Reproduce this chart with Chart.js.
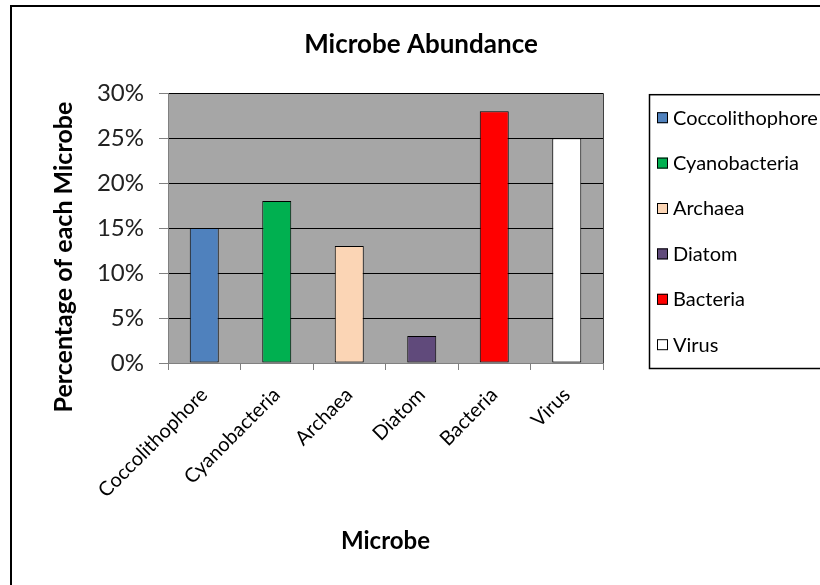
<!DOCTYPE html>
<html>
<head>
<meta charset="utf-8">
<title>Microbe Abundance</title>
<script src="https://cdn.jsdelivr.net/npm/chart.js@4.4.1/dist/chart.umd.min.js"></script>
<style>
  html, body { margin: 0; padding: 0; background: #fff; overflow: hidden; }
  #wrap { width: 842px; height: 585px; }
</style>
</head>
<body>
<div id="wrap"><canvas id="microbeChart" width="842" height="585"></canvas></div>
<script>
// data
const microbes = ['Coccolithophore', 'Cyanobacteria', 'Archaea', 'Diatom', 'Bacteria', 'Virus'];
const abundance = [15, 18, 13, 3, 28, 25];
const barColors = ['#4f81bd', '#00b050', '#fbd5b5', '#604a7b', '#ff0000', '#ffffff'];
const yTicks = [0, 5, 10, 15, 20, 25, 30];
const yTitleText = 'Percentage of each Microbe';

const FONT = 'Lato';

// white page, black frame, grey plot area
const backdrop = {
    id: 'backdrop',
    beforeDraw(chart) {
        const { ctx, chartArea: a } = chart;
        ctx.save();
        ctx.fillStyle = '#fff';
        ctx.fillRect(0, 0, chart.width, chart.height);
        ctx.fillStyle = '#a6a6a6';
        ctx.fillRect(a.left, a.top, a.right - a.left, a.bottom - a.top);
        ctx.strokeStyle = '#000';
        ctx.lineWidth = 2;
        ctx.strokeRect(11, 6, chart.width + 100, chart.height + 100);
        ctx.restore();
    },
    beforeDatasetsDraw(chart) {
        const { ctx, chartArea: a } = chart;
        ctx.save();
        ctx.strokeStyle = '#404040';
        ctx.lineWidth = 1;
        ctx.beginPath();
        ctx.moveTo(a.right + 0.5, a.top);
        ctx.lineTo(a.right + 0.5, a.bottom);
        ctx.stroke();
        ctx.restore();
    }
};

// y axis title, sits a bit below the middle of the plot like the original
const yTitle = {
    id: 'yTitle',
    afterDraw(chart) {
        const { ctx, chartArea: a } = chart;
        ctx.save();
        ctx.translate(a.left - 104, (a.top + a.bottom) / 2 + 29);
        ctx.rotate(-Math.PI / 2);
        ctx.font = 'bold 25px ' + FONT;
        ctx.fillStyle = '#000';
        ctx.textAlign = 'center';
        ctx.textBaseline = 'middle';
        ctx.fillText(yTitleText, 0, 0);
        ctx.restore();
    }
};

// boxed legend on the right, one entry per microbe
const boxLegend = {
    id: 'boxLegend',
    afterDraw(chart) {
        const { ctx, chartArea: a } = chart;
        const left = a.right + 46;
        const top = a.top + 1;
        const rowGap = 45.4;
        ctx.save();
        ctx.strokeStyle = '#000';
        ctx.lineWidth = 1.5;
        ctx.strokeRect(left + 0.5, top + 0.5, 400, a.bottom - a.top + 4);
        ctx.font = '20px ' + FONT;
        ctx.textBaseline = 'middle';
        microbes.forEach((name, i) => {
            const y = top + 23 + i * rowGap;
            ctx.fillStyle = barColors[i];
            ctx.fillRect(left + 8, y - 5, 11, 11);
            ctx.strokeStyle = '#000';
            ctx.lineWidth = 1;
            ctx.strokeRect(left + 8.5, y - 4.5, 10, 10);
            ctx.fillStyle = '#000';
            ctx.fillText(name, left + 24, y + 1);
        });
        ctx.restore();
    }
};

const microbeChart = new Chart(document.getElementById('microbeChart'), {
    type: 'bar',
    data: {
        labels: microbes,
        datasets: [{
            label: 'Microbe Abundance',
            data: abundance,
            backgroundColor: barColors,
            borderColor: '#000',
            borderWidth: 1,
            borderSkipped: false,
            barPercentage: 0.4,
            categoryPercentage: 1.0
        }]
    },
    options: {
        responsive: false,
        animation: false,
        devicePixelRatio: 1,
        layout: { padding: 0 },
        plugins: {
            legend: { display: false },
            tooltip: { enabled: false },
            title: {
                display: true,
                text: 'Microbe Abundance',
                color: '#000',
                font: { family: FONT, size: 26, weight: 'bold' },
                padding: { top: 29, bottom: 33 }
            }
        },
        scales: {
            x: {
                ticks: {
                    color: '#000',
                    font: { family: FONT, size: 20 },
                    minRotation: 45,
                    maxRotation: 45,
                    autoSkip: false,
                    padding: 13
                },
                grid: {
                    drawOnChartArea: false,
                    tickColor: '#808080',
                    tickLength: 7,
                    offset: true
                },
                border: { color: '#808080' },
                title: {
                    display: true,
                    text: 'Microbe',
                    color: '#000',
                    font: { family: FONT, size: 24, weight: 'bold' },
                    padding: { bottom: 29 }
                },
                afterFit(scale) { scale.height = 222; }
            },
            y: {
                min: 0,
                max: 30,
                afterBuildTicks(scale) { scale.ticks = yTicks.map(v => ({ value: v })); },
                ticks: {
                    color: '#222',
                    font: { family: FONT, size: 24 },
                    padding: 15,
                    callback: v => v + '%'
                },
                grid: {
                    color: c => (c.tick && c.tick.value === 0 ? '#808080' : '#000'),
                    tickColor: '#808080',
                    tickLength: 9
                },
                border: { color: '#808080' },
                afterFit(scale) { scale.width = 168; }
            },
            // empty right-hand box that keeps room for the legend
            side: {
                type: 'linear',
                position: 'right',
                display: true,
                grid: { display: false },
                border: { display: false },
                ticks: { display: false },
                afterFit(scale) { scale.width = 842 - 603; }
            }
        }
    },
    plugins: [backdrop, yTitle, boxLegend]
});
</script>
</body>
</html>
